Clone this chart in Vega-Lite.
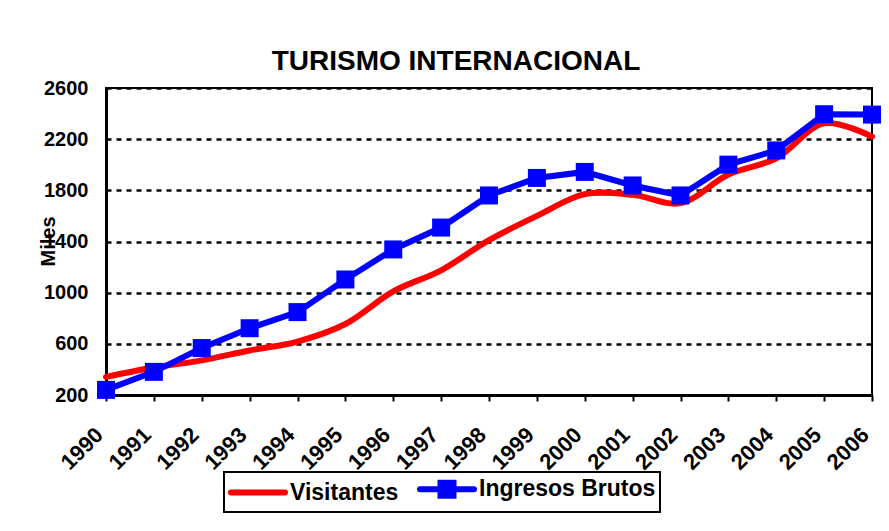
{
  "$schema": "https://vega.github.io/schema/vega-lite/v6.json",
  "width": 766,
  "height": 307,
  "autosize": {"type": "none"},
  "padding": {"left": 106, "top": 88, "right": 17, "bottom": 136},
  "background": "white",
  "title": {
    "text": "TURISMO INTERNACIONAL",
    "font": "Liberation Sans",
    "fontSize": 28,
    "fontWeight": "bold",
    "color": "black",
    "anchor": "middle",
    "dx": -33,
    "offset": 2
  },
  "config": {
    "view": {"stroke": "black", "strokeWidth": 2},
    "font": "Liberation Sans",
    "axis": {
      "labelFont": "Liberation Sans",
      "labelFontWeight": "bold",
      "labelColor": "black",
      "titleFont": "Liberation Sans",
      "titleColor": "black",
      "domainColor": "black",
      "tickColor": "black"
    }
  },
  "data": {
    "values": [
      {"year": "1990", "series": "Visitantes", "value": 342},
      {"year": "1991", "series": "Visitantes", "value": 415},
      {"year": "1992", "series": "Visitantes", "value": 471},
      {"year": "1993", "series": "Visitantes", "value": 548},
      {"year": "1994", "series": "Visitantes", "value": 618},
      {"year": "1995", "series": "Visitantes", "value": 755},
      {"year": "1996", "series": "Visitantes", "value": 1010},
      {"year": "1997", "series": "Visitantes", "value": 1175},
      {"year": "1998", "series": "Visitantes", "value": 1411},
      {"year": "1999", "series": "Visitantes", "value": 1600},
      {"year": "2000", "series": "Visitantes", "value": 1770},
      {"year": "2001", "series": "Visitantes", "value": 1765},
      {"year": "2002", "series": "Visitantes", "value": 1700},
      {"year": "2003", "series": "Visitantes", "value": 1924},
      {"year": "2004", "series": "Visitantes", "value": 2050},
      {"year": "2005", "series": "Visitantes", "value": 2324},
      {"year": "2006", "series": "Visitantes", "value": 2220},
      {"year": "1990", "series": "Ingresos Brutos", "value": 240},
      {"year": "1991", "series": "Ingresos Brutos", "value": 381},
      {"year": "1992", "series": "Ingresos Brutos", "value": 567},
      {"year": "1993", "series": "Ingresos Brutos", "value": 722},
      {"year": "1994", "series": "Ingresos Brutos", "value": 848},
      {"year": "1995", "series": "Ingresos Brutos", "value": 1103},
      {"year": "1996", "series": "Ingresos Brutos", "value": 1338},
      {"year": "1997", "series": "Ingresos Brutos", "value": 1509},
      {"year": "1998", "series": "Ingresos Brutos", "value": 1760},
      {"year": "1999", "series": "Ingresos Brutos", "value": 1897},
      {"year": "2000", "series": "Ingresos Brutos", "value": 1944},
      {"year": "2001", "series": "Ingresos Brutos", "value": 1838},
      {"year": "2002", "series": "Ingresos Brutos", "value": 1760},
      {"year": "2003", "series": "Ingresos Brutos", "value": 2001},
      {"year": "2004", "series": "Ingresos Brutos", "value": 2112},
      {"year": "2005", "series": "Ingresos Brutos", "value": 2395},
      {"year": "2006", "series": "Ingresos Brutos", "value": 2392}
    ]
  },
  "encoding": {
    "x": {
      "field": "year",
      "type": "ordinal",
      "scale": {"type": "point", "padding": 0},
      "axis": {
        "title": null,
        "labelAngle": -45,
        "labelAlign": "right",
        "labelBaseline": "middle",
        "labelFontSize": 22,
        "labelPadding": 30,
        "labelOffset": -7,
        "tickSize": 6,
        "tickWidth": 2,
        "domainWidth": 3,
        "grid": false
      }
    },
    "y": {
      "field": "value",
      "type": "quantitative",
      "scale": {"domain": [200, 2600], "nice": false, "zero": false},
      "axis": {
        "title": "Miles",
        "titleFontSize": 20,
        "titleFontWeight": "bold",
        "titleAngle": -90,
        "titleX": -58,
        "titleY": 153,
        "titleAlign": "center",
        "titleBaseline": "middle",
        "values": [200, 600, 1000, 1400, 1800, 2200, 2600],
        "format": "d",
        "labelFontSize": 20,
        "labelPadding": 18,
        "ticks": false,
        "domainWidth": 3,
        "grid": true,
        "gridColor": "black",
        "gridDash": [5, 5],
        "gridWidth": 2.5
      }
    },
    "color": {
      "field": "series",
      "type": "nominal",
      "scale": {"domain": ["Visitantes", "Ingresos Brutos"], "range": ["#FF0000", "#0000FF"]},
      "legend": {
        "orient": "none",
        "legendX": 118,
        "legendY": 384,
        "direction": "horizontal",
        "title": null,
        "padding": 4,
        "labelFont": "Liberation Sans",
        "labelFontSize": 23,
        "labelFontWeight": "bold",
        "labelColor": "black",
        "labelLimit": 400,
        "labelOffset": 36,
        "columnPadding": 9,
        "symbolSize": 400,
        "symbolStrokeWidth": 6,
        "strokeColor": "black",
        "encode": {
          "legend": {"update": {"strokeWidth": {"value": 2}}},
          "symbols": {
            "update": {
              "shape": {"signal": "datum.value == 'Visitantes' ? 'M-1,0H4.4' : 'M-1,0H4.4M1.05,-0.65H2.35V0.65H1.05Z'"},
              "fill": {"signal": "datum.value == 'Visitantes' ? 'transparent' : '#0000FF'"},
              "strokeCap": {"value": "round"},
              "opacity": {"value": 1}
            }
          }
        }
      }
    }
  },
  "layer": [
    {
      "transform": [{"filter": "datum.series == 'Visitantes'"}],
      "mark": {"type": "line", "interpolate": "catmull-rom", "strokeWidth": 6, "strokeCap": "round"}
    },
    {
      "transform": [{"filter": "datum.series == 'Ingresos Brutos'"}],
      "mark": {"type": "line", "strokeWidth": 6}
    },
    {
      "transform": [{"filter": "datum.series == 'Ingresos Brutos'"}],
      "mark": {"type": "point", "shape": "square", "filled": true, "size": 324, "opacity": 1, "strokeWidth": 0}
    }
  ]
}
